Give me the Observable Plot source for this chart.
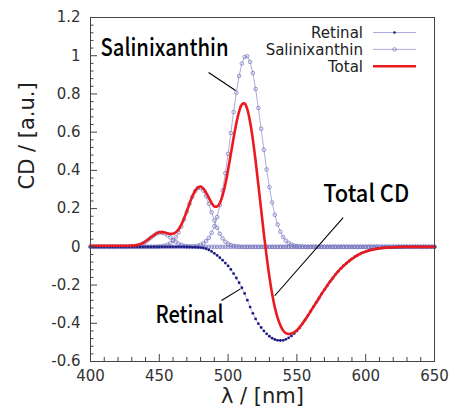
<!DOCTYPE html>
<html><head><meta charset="utf-8">
<script src="https://cdn.jsdelivr.net/npm/d3@7"></script>
<script src="https://cdn.jsdelivr.net/npm/@observablehq/plot@0.6"></script>
<style>html,body{margin:0;padding:0;background:#fff;}</style>
</head><body><div id="chart"></div>
<script>
const wavelength = [
400,402,404,406,408,410,412,414,416,418,
420,422,424,426,428,430,432,434,436,438,
440,442,444,446,448,450,452,454,456,458,
460,462,464,466,468,470,472,474,476,478,
480,482,484,486,488,490,492,494,496,498,
500,502,504,506,508,510,512,514,516,518,
520,522,524,526,528,530,532,534,536,538,
540,542,544,546,548,550,552,554,556,558,
560,562,564,566,568,570,572,574,576,578,
580,582,584,586,588,590,592,594,596,598,
600,602,604,606,608,610,612,614,616,618,
620,622,624,626,628,630,632,634,636,638,
640,642,644,646,648,650];

const retinal = [
0,0,0,0,0,0,0,0,0,0,
0,0,0,0,0,0,0,0,0,0,
0,0,0,0,0,0,0,0,0,0,
0,0,0,0,0,-0.001,-0.001,-0.002,-0.002,-0.003,
-0.004,-0.006,-0.010,-0.016,-0.024,-0.034,-0.045,-0.057,-0.070,-0.085,
-0.100,-0.118,-0.140,-0.163,-0.188,-0.214,-0.244,-0.279,-0.315,-0.348,
-0.377,-0.402,-0.422,-0.440,-0.455,-0.468,-0.478,-0.485,-0.489,-0.490,
-0.489,-0.484,-0.476,-0.466,-0.454,-0.440,-0.423,-0.403,-0.382,-0.360,
-0.337,-0.314,-0.292,-0.269,-0.246,-0.224,-0.203,-0.183,-0.164,-0.145,
-0.128,-0.113,-0.099,-0.086,-0.074,-0.063,-0.053,-0.044,-0.037,-0.030,
-0.025,-0.020,-0.016,-0.013,-0.010,-0.008,-0.006,-0.005,-0.004,-0.003,
-0.002,-0.002,-0.001,-0.001,0,0,0,0,0,0,
0,0,0,0,0,0];

const salinixanthinBand1 = [
0,0,0,0,0,0,0,0,0,0,
0,0,0,0,0.001,0.002,0.003,0.006,0.010,0.017,
0.026,0.037,0.049,0.060,0.069,0.074,0.074,0.069,0.060,0.049,
0.037,0.026,0.017,0.010,0.006,0.003,0.002,0.001,0,0,
0,0,0,0,0,0,0,0,0,0,
0,0,0,0,0,0,0,0,0,0,
0,0,0,0,0,0,0,0,0,0,
0,0,0,0,0,0,0,0,0,0,
0,0,0,0,0,0,0,0,0,0,
0,0,0,0,0,0,0,0,0,0,
0,0,0,0,0,0,0,0,0,0,
0,0,0,0,0,0,0,0,0,0,
0,0,0,0,0,0];

const salinixanthinBand2 = [
0,0,0,0,0,0,0,0,0,0,
0,0,0,0,0,0,0,0,0,0,
0,0,0,0,0.001,0.002,0.003,0.006,0.011,0.019,
0.032,0.050,0.075,0.106,0.143,0.184,0.225,0.262,0.291,0.307,
0.309,0.294,0.264,0.225,0.181,0.138,0.100,0.068,0.044,0.027,
0.016,0.009,0.005,0.003,0.001,0,0,0,0,0,
0,0,0,0,0,0,0,0,0,0,
0,0,0,0,0,0,0,0,0,0,
0,0,0,0,0,0,0,0,0,0,
0,0,0,0,0,0,0,0,0,0,
0,0,0,0,0,0,0,0,0,0,
0,0,0,0,0,0,0,0,0,0,
0,0,0,0,0,0];

const salinixanthinBand3 = [
0,0,0,0,0,0,0,0,0,0,
0,0,0,0,0,0,0,0,0,0,
0,0,0,0,0,0,0,0,0,0,
0,0,0,0,0,0,0.001,0.002,0.003,0.006,
0.011,0.018,0.030,0.047,0.073,0.108,0.156,0.218,0.295,0.385,
0.487,0.596,0.705,0.807,0.894,0.959,0.994,0.997,0.968,0.909,
0.826,0.726,0.618,0.508,0.405,0.312,0.232,0.167,0.117,0.079,
0.051,0.032,0.020,0.012,0.007,0.004,0.002,0.001,0,0,
0,0,0,0,0,0,0,0,0,0,
0,0,0,0,0,0,0,0,0,0,
0,0,0,0,0,0,0,0,0,0,
0,0,0,0,0,0,0,0,0,0,
0,0,0,0,0,0];

const total = [
0.006,0.006,0.006,0.006,0.006,0.006,0.006,0.006,0.006,0.006,
0.006,0.006,0.006,0.006,0.006,0.007,0.007,0.010,0.013,0.020,
0.028,0.039,0.050,0.060,0.070,0.076,0.077,0.075,0.071,0.068,
0.069,0.076,0.092,0.116,0.149,0.187,0.227,0.263,0.292,0.310,
0.316,0.306,0.284,0.256,0.230,0.212,0.211,0.229,0.269,0.327,
0.403,0.487,0.570,0.647,0.707,0.745,0.750,0.718,0.653,0.561,
0.449,0.324,0.196,0.068,-0.050,-0.156,-0.246,-0.318,-0.372,-0.411,
-0.438,-0.452,-0.456,-0.454,-0.447,-0.436,-0.421,-0.402,-0.382,-0.360,
-0.337,-0.314,-0.292,-0.269,-0.246,-0.224,-0.203,-0.183,-0.164,-0.145,
-0.128,-0.113,-0.099,-0.086,-0.074,-0.063,-0.053,-0.044,-0.037,-0.030,
-0.025,-0.020,-0.016,-0.013,-0.010,-0.008,-0.006,-0.005,-0.004,-0.003,
-0.002,-0.002,-0.001,-0.001,0,0,0,0,0,0,
0,0,0,0,0,0];

const xTicks = [400,450,500,550,600,650];
const xMinorTicks = [410,420,430,440,460,470,480,490,510,520,530,540,560,570,580,590,610,620,630,640];
const yTicks = [-0.6,-0.4,-0.2,0,0.2,0.4,0.6,0.8,1,1.2];
const yTickLabels = ["-0.6","-0.4","-0.2","0","0.2","0.4","0.6","0.8","1","1.2"];
const yMinorTicks = [-0.56,-0.52,-0.48,-0.44,-0.36,-0.32,-0.28,-0.24,-0.16,-0.12,-0.08,-0.04,
0.04,0.08,0.12,0.16,0.24,0.28,0.32,0.36,0.44,0.48,0.52,0.56,0.64,0.68,0.72,0.76,0.84,0.88,0.92,0.96,1.04,1.08,1.12,1.16];

const xTitle = "λ / [nm]";
const yTitle = "CD / [a.u.]";
const legendLabels = ["Retinal", "Salinixanthin", "Total"];

const annotationLabels = ["Salinixanthin", "Total CD", "Retinal"];
const annotationX = [407.3, 569.1, 447.2];
const annotationY = [0.996, 0.233, -0.396];
const leaderX1 = [485.8, 583.6, 495.2];
const leaderY1 = [0.912, 0.153, -0.281];
const leaderX2 = [505.4, 533.9, 509.0];
const leaderY2 = [0.818, -0.256, -0.220];

// tables built from the arrays
const salRows = [salinixanthinBand1, salinixanthinBand2, salinixanthinBand3]
  .flatMap((arr, b) => arr.map((v, i) => ({wl: wavelength[i], v, band: b})));
const retRows = retinal.map((v, i) => ({wl: wavelength[i], v}));
const totRows = total.map((v, i) => ({wl: wavelength[i], v}));
const annRows = annotationLabels.map((label, i) => ({label, x: annotationX[i], y: annotationY[i]}));
const leadRows = leaderX1.map((x1, i) => ({x1, y1: leaderY1[i], x2: leaderX2[i], y2: leaderY2[i]}));
const annWidths = {"Salinixanthin": 128, "Total CD": 86, "Retinal": 68};

const lavender = "#a3a3d8";
const circleColor = "#7c7cc2";
const navy = "#1a1a82";
const red = "#ea1a1e";
const axisGray = "#444";

const chart = Plot.plot({
  width: 452, height: 414,
  marginLeft: 90, marginRight: 18, marginTop: 17, marginBottom: 53,
  style: {fontFamily: "DejaVu Sans", fontSize: "15px", color: "#333", background: "#fff"},
  x: {domain: [400, 650]},
  y: {domain: [-0.6, 1.2]},
  marks: [
    Plot.line(salRows, {x: "wl", y: "v", z: "band", stroke: lavender, strokeWidth: 0.9}),
    Plot.dot(salRows, {x: "wl", y: "v", r: 1.8, stroke: circleColor, strokeWidth: 0.8, fill: "none"}),
    Plot.line(retRows, {x: "wl", y: "v", stroke: lavender, strokeWidth: 0.8}),
    Plot.dot(retRows, {x: "wl", y: "v", r: 1.4, fill: navy, stroke: "none"}),
    Plot.line(totRows, {x: "wl", y: "v", stroke: red, strokeWidth: 2.6, curve: "catmull-rom"}),
    Plot.link(leadRows, {x1: "x1", y1: "y1", x2: "x2", y2: "y2", stroke: "#000", strokeWidth: 1.1}),
    Plot.text(annRows, {x: "x", y: "y", text: "label", textAnchor: "start", lineAnchor: "bottom",
      fontFamily: "Noto Sans CJK JP", fontWeight: 500, fontSize: 24, fill: "#000"}),
    Plot.ruleX(xTicks, {x: d => d, y1: -0.6, y2: -0.6, insetBottom: 7, stroke: axisGray}),
    Plot.ruleX(xMinorTicks, {x: d => d, y1: -0.6, y2: -0.6, insetBottom: 4, stroke: axisGray}),
    Plot.ruleY(yTicks, {y: d => d, x1: 400, x2: 400, insetLeft: 7, stroke: axisGray}),
    Plot.ruleY(yMinorTicks, {y: d => d, x1: 400, x2: 400, insetLeft: 3.5, stroke: axisGray}),
    Plot.axisX({ticks: xTicks, tickSize: 0, tickPadding: 9, label: null, tickFormat: d => String(d)}),
    Plot.axisY({ticks: yTicks, tickSize: 0, tickPadding: 10, label: null,
      tickFormat: d => yTickLabels[yTicks.indexOf(d)]}),
    Plot.frame({stroke: axisGray, strokeWidth: 1}),
    Plot.text([xTitle], {frameAnchor: "bottom", dy: 41, fontSize: 21, fill: "#222"}),
    Plot.text([yTitle], {frameAnchor: "left", dx: -63, rotate: -90, fontSize: 21, fill: "#222"})
  ]
});

const svg = d3.select(chart);
svg.selectAll("g[aria-label='text'] text").each(function () {
  const t = this.textContent;
  if (annWidths[t]) {
    this.setAttribute("textLength", annWidths[t]);
    this.setAttribute("lengthAdjust", "spacingAndGlyphs");
  }
});

// legend (top-right, inside frame)
const lg = svg.append("g").attr("font-family", "DejaVu Sans").attr("font-size", 15).attr("fill", "#222");
legendLabels.forEach((name, i) => {
  const cy = 32.5 + i * 16.9;
  lg.append("text").attr("x", 363).attr("y", cy).attr("dy", "0.35em").attr("text-anchor", "end").text(name);
  if (name === "Total") {
    lg.append("line").attr("x1", 373).attr("x2", 416).attr("y1", cy).attr("y2", cy)
      .attr("stroke", red).attr("stroke-width", 2.6);
  } else {
    lg.append("line").attr("x1", 373).attr("x2", 416).attr("y1", cy).attr("y2", cy)
      .attr("stroke", lavender).attr("stroke-width", 0.9);
    if (name === "Retinal") {
      lg.append("circle").attr("cx", 394.5).attr("cy", cy).attr("r", 1.3).attr("fill", navy);
    } else {
      lg.append("circle").attr("cx", 394.5).attr("cy", cy).attr("r", 1.8).attr("fill", "none")
        .attr("stroke", circleColor).attr("stroke-width", 0.8);
    }
  }
});

document.getElementById("chart").appendChild(chart);
</script>
</body></html>
